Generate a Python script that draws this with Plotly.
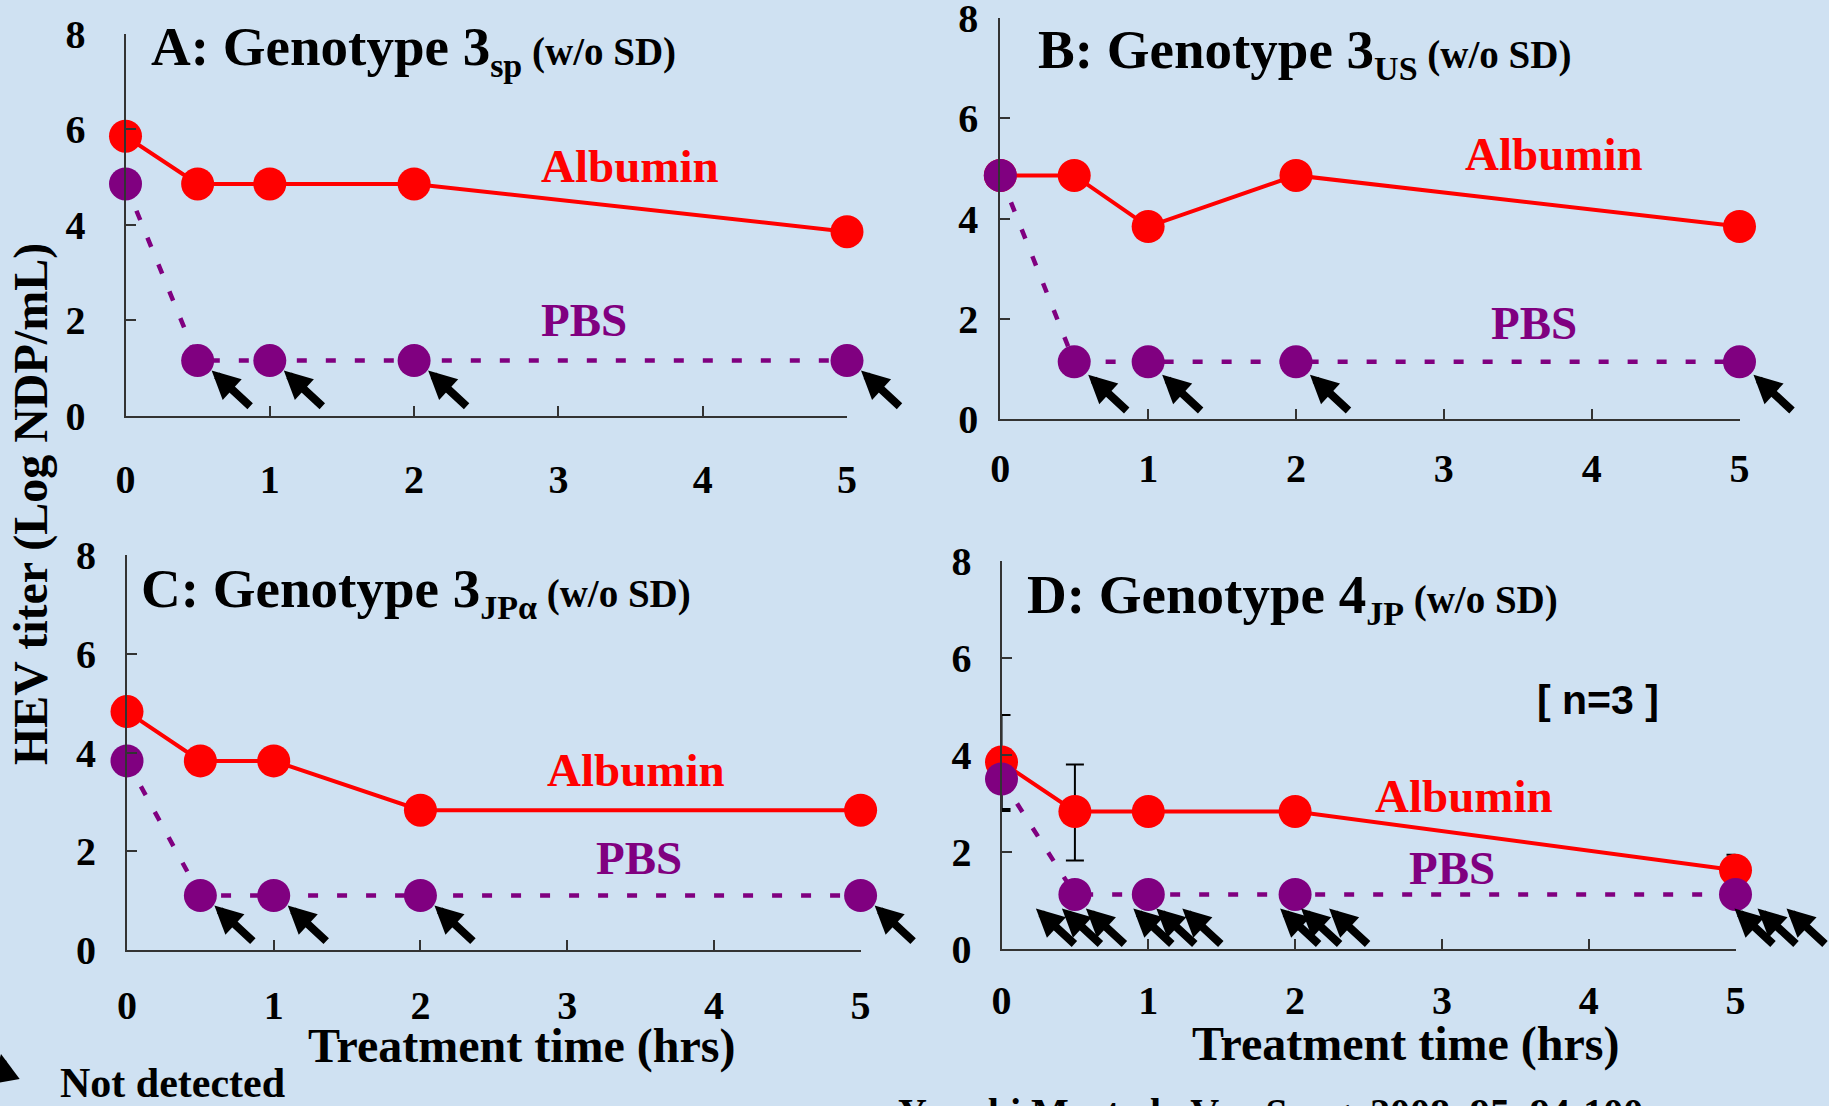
import plotly.graph_objects as go

W, H = 1829, 1106

# ---------------- data ----------------
time_hrs = [0, 0.5, 1, 2, 5]
x_ticks = [0, 1, 2, 3, 4, 5]
y_ticks = [0, 2, 4, 6, 8]

A_albumin = [5.85, 4.85, 4.85, 4.85, 3.85]
A_pbs = [4.85, 1.15, 1.15, 1.15, 1.15]
B_albumin = [4.86, 4.86, 3.84, 4.86, 3.84]
B_pbs = [4.86, 1.14, 1.14, 1.14, 1.14]
C_albumin = [4.83, 3.83, 3.83, 2.83, 2.83]
C_pbs = [3.83, 1.10, 1.10, 1.10, 1.10]
D_albumin = [3.85, 2.83, 2.83, 2.83, 1.62]
D_pbs = [3.50, 1.12, 1.12, 1.12, 1.12]
D_albumin_sd_plus = [0.97, 0.97, 0, 0, 0.32]
D_albumin_sd_minus = [1.01, 1.01, 0, 0, 0.32]
D_pbs_sd_plus = [0, 0, 0, 0, 0]
D_pbs_sd_minus = [0.62, 0, 0, 0, 0]

# number of "not detected" samples per PBS point
A_nd = [0, 1, 1, 1, 1]
B_nd = [0, 1, 1, 1, 1]
C_nd = [0, 1, 1, 1, 1]
D_nd = [0, 3, 3, 3, 3]

panel_titles = [
    ("A", "3", "sp"),
    ("B", "3", "US"),
    ("C", "3", "JPα"),
    ("D", "4", "JP"),
]

RED = "#ff0000"
PURPLE = "#800080"
BG = "#cfe1f2"
SERIF = "Liberation Serif, Times New Roman, serif"


def px(x):
    return x / W


def py(y):
    return 1 - y / H


def bfont(size, color="black", family=SERIF):
    return dict(family=family, size=size, color=color, weight="bold")


# pixel layout of each panel: (x0, x5, y0, y8, xlabel standoff, ylabel standoff)
panels = [
    dict(x0=125.5, x5=847, y0=415.5, y8=33.5, xso=27, yso=30),
    dict(x0=1000.3, x5=1739.5, y0=419, y8=18, xso=13, yso=12),
    dict(x0=127, x5=860.6, y0=949.7, y8=555.3, xso=19, yso=21),
    dict(x0=1001.5, x5=1735.5, y0=948.7, y8=560.9, xso=15, yso=20),
]

series = [
    (A_albumin, A_pbs, A_nd),
    (B_albumin, B_pbs, B_nd),
    (C_albumin, C_pbs, C_nd),
    (D_albumin, D_pbs, D_nd),
]

fig = go.Figure()
annotations = []

axis_common = dict(
    showgrid=False, zeroline=False, showline=True, linecolor="#333333",
    linewidth=2, ticks="inside", ticklen=10, tickwidth=1.5, tickcolor="#333333",
    tickfont=bfont(40), ticklabeloverflow="allow",
)

for i, (p, (alb, pbs, nd)) in enumerate(zip(panels, series)):
    k = "" if i == 0 else str(i + 1)
    xa, ya = "x" + k, "y" + k
    fig.update_layout(**{
        "xaxis" + k: dict(
            domain=[px(p["x0"]), px(p["x5"])], range=[0, 5], anchor=ya,
            tickvals=x_ticks, ticklabelstandoff=p["xso"], **axis_common),
        "yaxis" + k: dict(
            domain=[py(p["y0"]), py(p["y8"])], range=[0, 8], anchor=xa,
            tickvals=y_ticks, ticklabelstandoff=p["yso"], **axis_common),
    })

    alb_kw = {}
    pbs_kw = {}
    if i == 3:
        alb_kw["error_y"] = dict(type="data", symmetric=False,
                                 array=D_albumin_sd_plus,
                                 arrayminus=D_albumin_sd_minus,
                                 color="black", thickness=2, width=9)
        pbs_kw["error_y"] = dict(type="data", symmetric=False,
                                 array=D_pbs_sd_plus,
                                 arrayminus=D_pbs_sd_minus,
                                 color="black", thickness=2, width=9)

    fig.add_trace(go.Scatter(
        x=time_hrs, y=alb, xaxis=xa, yaxis=ya, mode="lines+markers",
        line=dict(color=RED, width=4),
        marker=dict(color=RED, size=33), cliponaxis=False,
        showlegend=False, **alb_kw))
    fig.add_trace(go.Scatter(
        x=time_hrs, y=pbs, xaxis=xa, yaxis=ya, mode="lines+markers",
        line=dict(color=PURPLE, width=4.5, dash="10px,19px"),
        marker=dict(color=PURPLE, size=33), cliponaxis=False,
        showlegend=False, **pbs_kw))

    # "not detected" arrows
    d_offsets = {1: [-39, -13, 11], 2: [-15, 8, 34], 3: [-15, 6, 34], 4: [-1, 22, 51]}
    for j, (t, v, n) in enumerate(zip(time_hrs, pbs, nd)):
        if n == 0:
            continue
        if n == 1:
            offs = [14]
            ysh = -10 if i != 1 else -13
        else:
            offs = d_offsets[j]
            ysh = -14
        for o in offs:
            annotations.append(dict(
                x=t, y=v, xref=xa, yref=ya, text="", showarrow=True,
                ax=40, ay=37, xshift=o, yshift=ysh,
                arrowcolor="black", arrowwidth=8, arrowhead=2, arrowsize=0.7,
                standoff=0))

# panel titles
title_pos = [(149, 50), (1036, 53), (139, 592), (1025, 598)]
for (letter, num, sub), (tx, ty) in zip(panel_titles, title_pos):
    annotations.append(dict(
        x=px(tx), y=py(ty), xref="paper", yref="paper", xanchor="left",
        yanchor="middle", showarrow=False,
        text=(f"{letter}: Genotype {num}<sub><span style='font-size:34px'>{sub}</span></sub>"
              f"<span style='font-size:39px'> (w/o SD)</span>"),
        font=bfont(55)))

# series labels
series_labels = [
    ("Albumin", RED, 630, 166), ("PBS", PURPLE, 584, 320),
    ("Albumin", RED, 1554, 154), ("PBS", PURPLE, 1534, 323),
    ("Albumin", RED, 636, 770), ("PBS", PURPLE, 639, 858),
    ("Albumin", RED, 1464, 796), ("PBS", PURPLE, 1452, 868),
]
for txt, col, lx, ly in series_labels:
    annotations.append(dict(
        x=px(lx), y=py(ly), xref="paper", yref="paper", showarrow=False,
        xanchor="center", yanchor="middle",
        text=txt, font=bfont(47, col)))

# n=3
annotations.append(dict(
    x=px(1598), y=py(700), xref="paper", yref="paper", showarrow=False,
    xanchor="center", yanchor="middle",
    text="[ n=3 ]", font=bfont(41, family="Liberation Sans, Arial, sans-serif")))

# axis titles
for cx, cy in [(521, 1046), (1405, 1044)]:
    annotations.append(dict(
        x=px(cx), y=py(cy), xref="paper", yref="paper", showarrow=False,
        xanchor="center", yanchor="middle",
        text="Treatment time (hrs)", font=bfont(48)))

annotations.append(dict(
    x=px(31), y=py(504), xref="paper", yref="paper", showarrow=False,
    xanchor="center", yanchor="middle",
    textangle=-90, text="HEV titer (Log NDP/mL)", font=bfont(48)))

# legend note
annotations.append(dict(
    x=px(58), y=py(1083), xref="paper", yref="paper", xanchor="left",
    yanchor="middle", showarrow=False, text="Not detected", font=bfont(42)))
annotations.append(dict(
    x=px(-24), y=py(1054), xref="paper", yref="paper", text="", showarrow=True,
    ax=30, ay=28, arrowcolor="black", arrowwidth=8, arrowhead=2,
    arrowsize=0.7, standoff=0))

# citation (cut off at the bottom edge)
annotations.append(dict(
    x=px(896), y=py(1112), xref="paper", yref="paper", xanchor="left",
    yanchor="middle", showarrow=False,
    text="Yunoki M, et al., Vox Sang. 2008, 95, 94-100", font=bfont(40)))

fig.update_layout(
    width=W, height=H, margin=dict(l=0, r=0, t=0, b=0, autoexpand=False),
    paper_bgcolor=BG, plot_bgcolor=BG, showlegend=False,
    annotations=annotations,
)

fig.write_html(
    "out.html",
    config={"displayModeBar": False},
    post_script="document.body.style.margin='0';document.body.style.overflow='hidden';",
)
